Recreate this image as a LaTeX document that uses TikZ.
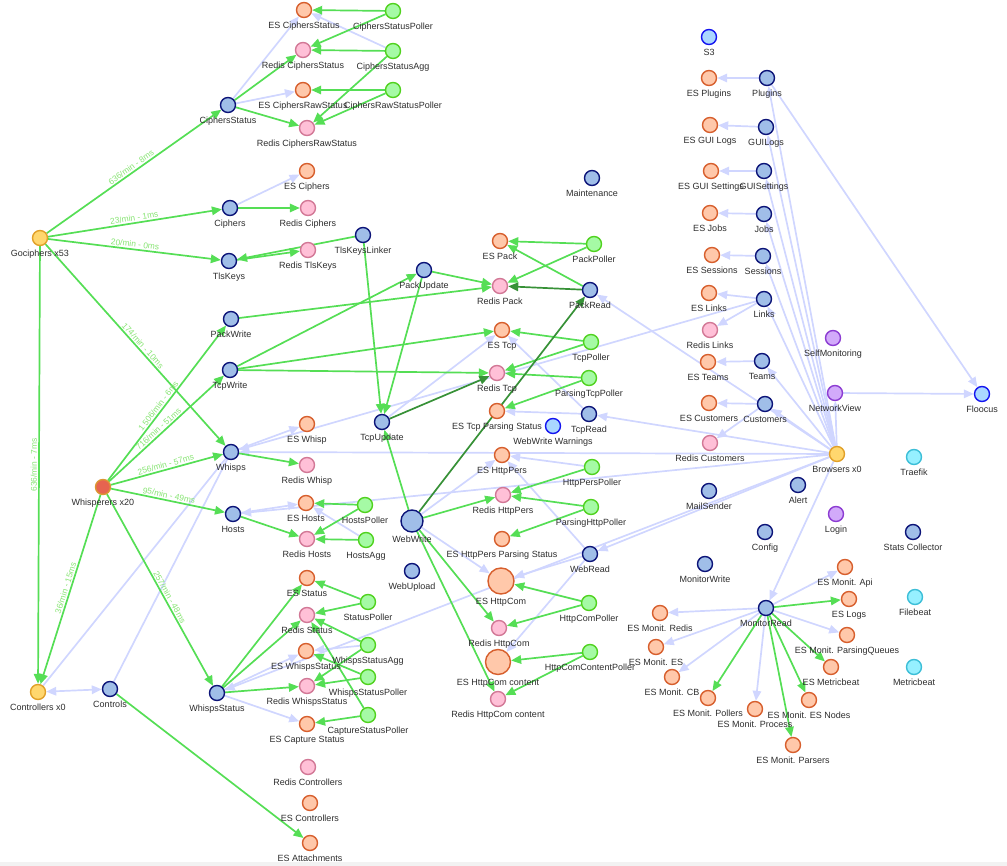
\documentclass[tikz,border=0pt]{standalone}
\usepackage{fontspec}
\setmainfont{Liberation Sans}
\usetikzlibrary{arrows.meta}
\pgfdeclarelayer{bg}
\pgfsetlayers{bg,main}
\definecolor{svcf}{RGB}{160,190,232}
\definecolor{svcd}{RGB}{12,20,120}
\definecolor{esf}{RGB}{255,200,170}
\definecolor{esd}{RGB}{215,95,45}
\definecolor{rdf}{RGB}{255,192,215}
\definecolor{rdd}{RGB}{210,120,150}
\definecolor{plf}{RGB}{165,250,165}
\definecolor{pld}{RGB}{80,210,30}
\definecolor{ylf}{RGB}{255,215,110}
\definecolor{yld}{RGB}{225,160,40}
\definecolor{whf}{RGB}{230,100,80}
\definecolor{whd}{RGB}{220,150,50}
\definecolor{lbf}{RGB}{170,215,255}
\definecolor{lbd}{RGB}{20,20,240}
\definecolor{ppf}{RGB}{210,170,250}
\definecolor{ppd}{RGB}{140,60,210}
\definecolor{cyf}{RGB}{150,240,255}
\definecolor{cyd}{RGB}{60,190,215}
\definecolor{txt}{RGB}{45,45,45}
\definecolor{gline}{RGB}{85,222,85}
\definecolor{dgline}{RGB}{55,145,55}
\definecolor{lline}{RGB}{208,214,255}
\definecolor{elab}{RGB}{135,228,115}
\tikzset{
  lbl/.style={anchor=base, yshift=-10pt, font=\fontsize{9}{10}\selectfont, text=txt, inner sep=0pt},
  nd/.style={circle, minimum size=15pt, inner sep=0pt, line width=1.4pt, label={[lbl]below:#1}},
  svc/.style={nd={#1}, fill=svcf, draw=svcd},
  es/.style={nd={#1}, fill=esf, draw=esd},
  rd/.style={nd={#1}, fill=rdf, draw=rdd},
  pl/.style={nd={#1}, fill=plf, draw=pld},
  yl/.style={nd={#1}, fill=ylf, draw=yld},
  wh/.style={nd={#1}, fill=whf, draw=whd},
  lb/.style={nd={#1}, fill=lbf, draw=lbd},
  pp/.style={nd={#1}, fill=ppf, draw=ppd},
  cy/.style={nd={#1}, fill=cyf, draw=cyd},
  ge/.style={draw=gline, line width=1.7pt, -{Triangle[length=10pt,width=8.5pt]}},
  dge/.style={draw=dgline, line width=1.7pt, -{Triangle[length=10pt,width=8.5pt]}},
  le/.style={draw=lline, line width=1.7pt, -{Triangle[length=10pt,width=8.5pt]}},
  lp/.style={draw=lline, line width=1.7pt},
  lboth/.style={draw=lline, line width=1.7pt, {Triangle[length=10pt,width=8.5pt]}-{Triangle[length=10pt,width=8.5pt]}},
  el/.style={font=\fontsize{8.4}{9}\selectfont, text=elab, sloped, above, inner sep=1.2pt}
}
\begin{document}
\begin{tikzpicture}[x=1pt,y=1pt]
\useasboundingbox (0,0) rectangle (1007,-866);
\fill[gray!10] (0,-862) rectangle (1007,-866);
% ---------- left part
\node[yl=Gociphers x53] (goc) at (40,-238) {};
\node[svc=CiphersStatus] (cs) at (228,-105) {};
\node[svc=Ciphers] (ciph) at (230,-208) {};
\node[svc=TlsKeys] (tls) at (229,-261) {};
\node[es=ES CiphersStatus] (escs) at (304,-10) {};
\node[rd=Redis CiphersStatus] (rcs) at (303,-50) {};
\node[es=ES CiphersRawStatus] (escrs) at (303,-90) {};
\node[rd=Redis CiphersRawStatus] (rcrs) at (307,-128) {};
\node[pl=CiphersStatusPoller] (csp) at (393,-11) {};
\node[pl=CiphersStatusAgg] (csa) at (393,-51) {};
\node[pl=CiphersRawStatusPoller] (crsp) at (393,-90) {};
\node[es=ES Ciphers] (esc) at (307,-171) {};
\node[rd=Redis Ciphers] (rciph) at (308,-208) {};
\node[rd=Redis TlsKeys] (rtls) at (308,-250) {};
\node[svc=TlsKeysLinker] (tlsl) at (363,-235) {};
\node[svc=PackUpdate] (packupd) at (424,-270) {};
\node[rd=Redis Pack] (rpack) at (500,-286) {};
\node[es=ES Pack] (espack) at (500,-241) {};
\node[pl=PackPoller] (packpoll) at (594,-244) {};
\node[svc=PackRead] (packread) at (590,-290) {};
\node[svc=Maintenance] (maint) at (592,-178) {};
\node[svc=PackWrite] (packw) at (231,-319) {};
\node[svc=TcpWrite] (tcpw) at (230,-370) {};
\node[es=ES Tcp] (estcp) at (502,-330) {};
\node[pl=TcpPoller] (tcppoll) at (591,-342) {};
\node[rd=Redis Tcp] (rtcp) at (497,-373) {};
\node[pl=ParsingTcpPoller] (ptcp) at (589,-378) {};
\node[es=ES Tcp Parsing Status] (estcpps) at (497,-411) {};
\node[lb=WebWrite Warnings] (www) at (553,-426) {};
\node[svc=TcpRead] (tcpread) at (589,-414) {};
\node[svc=TcpUpdate] (tcpupd) at (382,-422) {};
\node[svc=Whisps] (whisps) at (231,-452) {};
\node[es=ES Whisp] (eswhisp) at (307,-424) {};
\node[rd=Redis Whisp] (rwhisp) at (307,-465) {};
\node[wh=Whisperers x20] (whisperers) at (103,-487) {};
\node[svc=Hosts] (hosts) at (233,-514) {};
\node[es=ES Hosts] (eshosts) at (306,-503) {};
\node[rd=Redis Hosts] (rhosts) at (307,-539) {};
\node[pl=HostsPoller] (hostspoll) at (365,-505) {};
\node[pl=HostsAgg] (hostsagg) at (366,-540) {};
\node[svc=WebWrite, minimum size=22pt] (webwrite) at (412,-521) {};
\node[svc=WebUpload] (webupload) at (412,-571) {};
\node[es=ES HttpPers] (eshttppers) at (502,-455) {};
\node[pl=HttpPersPoller] (hpp) at (592,-467) {};
\node[rd=Redis HttpPers] (rhttppers) at (503,-495) {};
\node[pl=ParsingHttpPoller] (php) at (591,-507) {};
\node[es=ES HttpPers Parsing Status] (eshpps) at (502,-539) {};
\node[svc=WebRead] (webread) at (590,-554) {};
\node[es=ES HttpCom, minimum size=26pt] (eshttpcom) at (501,-581) {};
\node[pl=HttpComPoller] (hcp) at (589,-603) {};
\node[rd=Redis HttpCom] (rhttpcom) at (499,-628) {};
\node[es=ES HttpCom content, minimum size=25pt] (eshcc) at (498,-662) {};
\node[pl=HttpComContentPoller] (hccp) at (590,-652) {};
\node[rd=Redis HttpCom content] (rhcc) at (498,-699) {};
\node[es=ES Status] (esstatus) at (307,-578) {};
\node[pl=StatusPoller] (statuspoll) at (368,-602) {};
\node[rd=Redis Status] (rstatus) at (307,-615) {};
\node[es=ES WhispsStatus] (eswss) at (306,-651) {};
\node[pl=WhispsStatusAgg] (wssagg) at (368,-645) {};
\node[rd=Redis WhispsStatus] (rwss) at (307,-686) {};
\node[pl=WhispsStatusPoller] (wssp) at (368,-677) {};
\node[es=ES Capture Status] (escap) at (307,-724) {};
\node[pl=CaptureStatusPoller] (capp) at (368,-715) {};
\node[svc=WhispsStatus] (wss) at (217,-693) {};
\node[yl=Controllers x0] (ctrlx) at (38,-692) {};
\node[svc=Controls] (controls) at (110,-689) {};
\node[rd=Redis Controllers] (rctrl) at (308,-767) {};
\node[es=ES Controllers] (esctrl) at (310,-803) {};
\node[es=ES Attachments] (esatt) at (310,-843) {};
% ---------- right part
\node[lb=S3] (s3) at (709,-37) {};
\node[es=ES Plugins] (esplugins) at (709,-78) {};
\node[svc=Plugins] (plugins) at (767,-78) {};
\node[es=ES GUI Logs] (esguilogs) at (710,-125) {};
\node[svc=GUILogs] (guilogs) at (766,-127) {};
\node[es=ES GUI Settings] (esguiset) at (711,-171) {};
\node[svc=GUISettings] (guiset) at (764,-171) {};
\node[es=ES Jobs] (esjobs) at (710,-213) {};
\node[svc=Jobs] (jobs) at (764,-214) {};
\node[es=ES Sessions] (essessions) at (712,-255) {};
\node[svc=Sessions] (sessions) at (763,-256) {};
\node[es=ES Links] (eslinks) at (709,-293) {};
\node[svc=Links] (links) at (764,-299) {};
\node[rd=Redis Links] (rlinks) at (710,-330) {};
\node[es=ES Teams] (esteams) at (708,-362) {};
\node[svc=Teams] (teams) at (762,-361) {};
\node[es=ES Customers] (escust) at (709,-403) {};
\node[svc=Customers] (cust) at (765,-404) {};
\node[rd=Redis Customers] (rcust) at (710,-443) {};
\node[pp=SelfMonitoring] (selfmon) at (833,-338) {};
\node[pp=NetworkView] (netview) at (835,-393) {};
\node[lb=Floocus] (floocus) at (982,-394) {};
\node[yl=Browsers x0] (browsers) at (837,-454) {};
\node[cy=Traefik] (traefik) at (914,-457) {};
\node[svc=MailSender] (mailsender) at (709,-491) {};
\node[svc=Alert] (alert) at (798,-485) {};
\node[pp=Login] (login) at (836,-514) {};
\node[svc=Config] (config) at (765,-532) {};
\node[svc=Stats Collector] (statscol) at (913,-532) {};
\node[svc=MonitorWrite] (monwrite) at (705,-564) {};
\node[svc=MonitorRead] (monread) at (766,-608) {};
\node[es=ES Monit. Api] (esmapi) at (845,-567) {};
\node[es=ES Logs] (eslogs) at (849,-599) {};
\node[cy=Filebeat] (filebeat) at (915,-597) {};
\node[es=ES Monit. ParsingQueues] (esmpq) at (847,-635) {};
\node[es=ES Metricbeat] (esmetric) at (831,-667) {};
\node[cy=Metricbeat] (metricbeat) at (914,-667) {};
\node[es=ES Monit. Redis] (esmredis) at (660,-613) {};
\node[es=ES Monit. ES] (esmes) at (656,-647) {};
\node[es=ES Monit. CB] (esmcb) at (672,-677) {};
\node[es=ES Monit. Pollers] (esmpollers) at (708,-698) {};
\node[es=ES Monit. Process] (esmprocess) at (755,-709) {};
\node[es=ES Monit. ES Nodes] (esmesnodes) at (809,-700) {};
\node[es=ES Monit. Parsers] (esmparsers) at (793,-745) {};

\begin{pgfonlayer}{bg}
% lavender edges
\draw[le] (cs) -- (escs);
\draw[le] (cs) -- (escrs);
\draw[le] (csa) -- (escs);
\draw[le] (ciph) -- (esc);
\draw[le] (whisps) -- (eswhisp);
\draw[lp] (whisps) -- (ctrlx);
\draw[lp] (whisps) -- (controls);
\draw[lboth] (ctrlx) -- (controls);
\draw[le] (hosts) -- (eshosts);
\draw[le] (hostsagg) -- (eshosts);
\draw[le] (browsers) -- (hosts);
\draw[le] (browsers) -- (whisps);
\draw[le] (browsers) -- (tcpread);
\draw[le] (browsers) -- (packread);
\draw[le] (browsers) -- (webread);
\draw[le] (browsers) -- (wss);
\draw[le] (browsers) -- (monread);
\draw[le] (links) -- (whisps);
\draw[le] (tcpupd) -- (estcp);
\draw[le] (tcpread) -- (estcp);
\draw[le] (tcpread) -- (estcpps);
\draw[le] (hpp) -- (eshttppers);
\draw[le] (webwrite) -- (eshttpcom);
\draw[le] (webwrite) -- (eshttppers);
\draw[le] (webread) -- (eshttppers);
\draw[le] (webread) -- (eshttpcom);
\draw[le] (webread) -- (eshcc);
\draw[le] (wss) -- (eswss);
\draw[le] (wss) -- (escap);
\draw[le] (wssagg) -- (eswss);
\draw[le] (browsers) -- (plugins);
\draw[le] (browsers) -- (guilogs);
\draw[le] (browsers) -- (guiset);
\draw[le] (browsers) -- (jobs);
\draw[le] (browsers) -- (sessions);
\draw[le] (browsers) -- (links);
\draw[le] (browsers) -- (teams);
\draw[le] (browsers) -- (cust);
\draw[le] (browsers) -- (netview);
\draw[le] (plugins) -- (esplugins);
\draw[le] (guilogs) -- (esguilogs);
\draw[le] (guiset) -- (esguiset);
\draw[le] (jobs) -- (esjobs);
\draw[le] (sessions) -- (essessions);
\draw[le] (links) -- (eslinks);
\draw[le] (links) -- (rlinks);
\draw[le] (teams) -- (esteams);
\draw[le] (cust) -- (escust);
\draw[le] (cust) -- (rcust);
\draw[le] (plugins) -- (floocus);
\draw[le] (netview) -- (floocus);
\draw[le] (monread) -- (esmapi);
\draw[le] (monread) -- (esmpq);
\draw[le] (monread) -- (esmprocess);
\draw[le] (monread) -- (esmcb);
\draw[le] (monread) -- (esmes);
\draw[le] (monread) -- (esmredis);
% green edges with labels
\draw[ge] (goc) -- node[el]{636/min - 8ms} (cs);
\draw[ge] (goc) -- node[el]{23/min - 1ms} (ciph);
\draw[ge] (goc) -- node[el]{20/min - 0ms} (tls);
\draw[ge] (goc) -- node[el, pos=0.52]{174/min - 10ms} (whisps);
\draw[ge] (goc) -- node[el]{636/min - 7ms} (ctrlx);
\draw[ge] (whisperers) -- node[el, pos=0.46]{1 506/min - 6ms} (packw);
\draw[ge] (whisperers) -- node[el, pos=0.46]{716/min - 51ms} (tcpw);
\draw[ge] (whisperers) -- node[el]{256/min - 57ms} (whisps);
\draw[ge] (whisperers) -- node[el]{95/min - 49ms} (hosts);
\draw[ge] (whisperers) -- node[el, pos=0.55]{257/min - 48ms} (wss);
\draw[ge] (whisperers) -- node[el]{36/min - 15ms} (ctrlx);
% green edges
\draw[ge] (cs) -- (rcs);
\draw[ge] (cs) -- (rcrs);
\draw[ge] (csp) -- (escs);
\draw[ge] (csp) -- (rcs);
\draw[ge] (csa) -- (rcs);
\draw[ge] (csa) -- (rcrs);
\draw[ge] (crsp) -- (escrs);
\draw[ge] (crsp) -- (rcrs);
\draw[ge] (ciph) -- (rciph);
\draw[ge] (tls) -- (rtls);
\draw[ge] (tlsl) -- (tls);
\draw[ge] (tlsl) -- (tcpupd);
\draw[ge] (tcpw) -- (packupd);
\draw[ge] (packupd) -- (rpack);
\draw[ge] (packupd) -- (tcpupd);
\draw[ge] (packw) -- (rpack);
\draw[ge] (tcpw) -- (estcp);
\draw[ge] (tcpw) -- (rtcp);
\draw[ge] (packpoll) -- (espack);
\draw[ge] (packpoll) -- (rpack);
\draw[ge] (packread) -- (espack);
\draw[ge] (tcppoll) -- (estcp);
\draw[ge] (tcppoll) -- (rtcp);
\draw[ge] (ptcp) -- (rtcp);
\draw[ge] (ptcp) -- (estcpps);
\draw[ge] (whisps) -- (rwhisp);
\draw[ge] (hosts) -- (rhosts);
\draw[ge] (hostspoll) -- (eshosts);
\draw[ge] (hostspoll) -- (rhosts);
\draw[ge] (hostsagg) -- (rhosts);
\draw[ge] (webwrite) -- (tcpupd);
\draw[ge] (webwrite) -- (rhttppers);
\draw[ge] (webwrite) -- (rhttpcom);
\draw[ge] (webwrite) -- (rhcc);
\draw[ge] (hpp) -- (rhttppers);
\draw[ge] (php) -- (rhttppers);
\draw[ge] (php) -- (eshpps);
\draw[ge] (hcp) -- (eshttpcom);
\draw[ge] (hcp) -- (rhttpcom);
\draw[ge] (hccp) -- (eshcc);
\draw[ge] (hccp) -- (rhcc);
\draw[ge] (wss) -- (esstatus);
\draw[ge] (wss) -- (rstatus);
\draw[ge] (wss) -- (rwss);
\draw[ge] (statuspoll) -- (esstatus);
\draw[ge] (statuspoll) -- (rstatus);
\draw[ge] (wssagg) -- (rstatus);
\draw[ge] (wssagg) -- (rwss);
\draw[ge] (wssp) -- (eswss);
\draw[ge] (wssp) -- (rwss);
\draw[ge] (capp) -- (escap);
\draw[ge] (capp) -- (rstatus);
\draw[ge] (controls) -- (esatt);
\draw[ge] (monread) -- (eslogs);
\draw[ge] (monread) -- (esmetric);
\draw[ge] (monread) -- (esmesnodes);
\draw[ge] (monread) -- (esmparsers);
\draw[ge] (monread) -- (esmpollers);
% dark green edges
\draw[dge] (webwrite) -- (packread);
\draw[dge] (packread) -- (rpack);
\draw[dge] (tcpupd) -- (rtcp);
\end{pgfonlayer}
\end{tikzpicture}
\end{document}
